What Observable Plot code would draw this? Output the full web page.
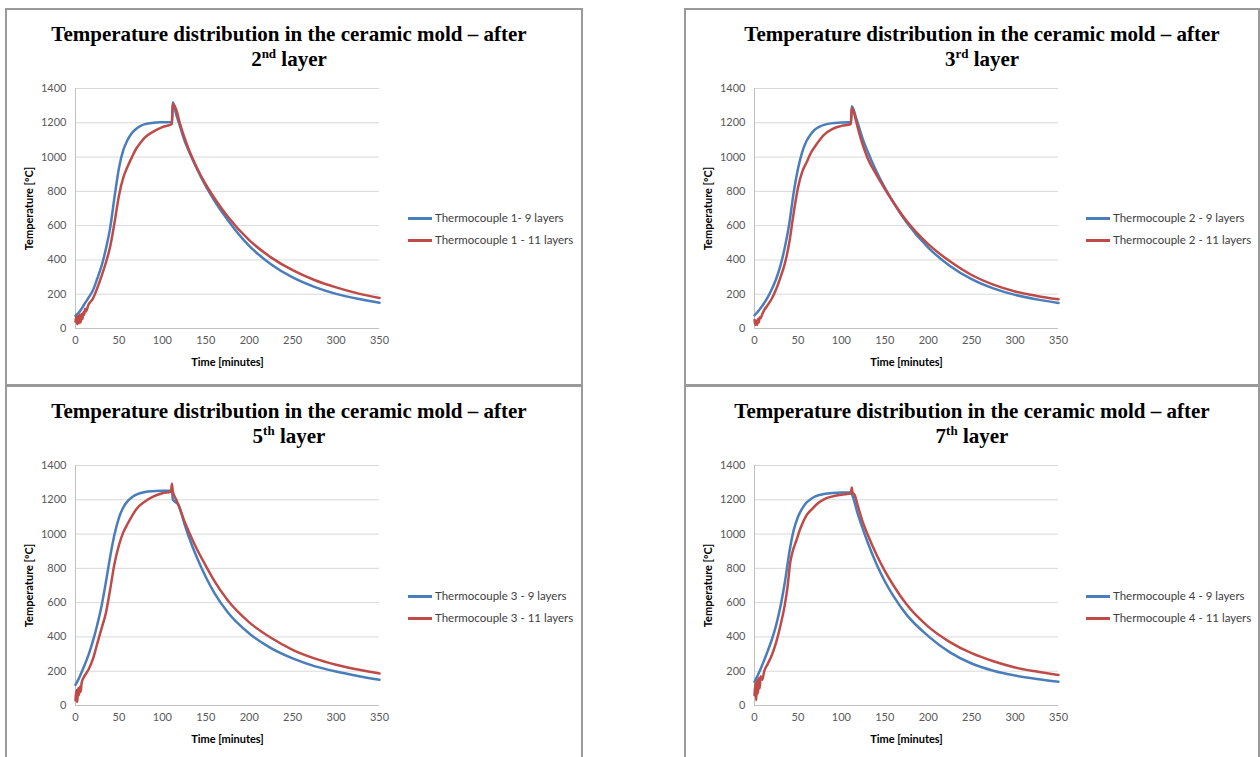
<!DOCTYPE html>
<html><head><meta charset="utf-8">
<script src="https://cdn.jsdelivr.net/npm/d3@7"></script>
<script src="https://cdn.jsdelivr.net/npm/@observablehq/plot@0.6"></script>
<style>
body{margin:0;background:#fff;width:1260px;height:757px;overflow:hidden;position:relative;}
.panel{position:absolute;border:2px solid #9a9a9a;box-sizing:border-box;}
.title{position:absolute;width:600px;text-align:center;font-family:"Liberation Serif","Times New Roman",serif;font-weight:bold;font-size:21px;line-height:25px;color:#000;}
.title sup{font-size:13px;line-height:0;vertical-align:8px;}
.legend-item{position:absolute;white-space:nowrap;height:14px;line-height:14px;font-family:Lato,sans-serif;font-size:11.5px;color:#404040;}
.swatch{display:inline-block;width:24px;height:0;border-top:3px solid;vertical-align:middle;margin-right:3px;position:relative;top:-1px;}
</style></head><body>
<script>
// ---- Axis ticks ----
const xTicks = [0, 50, 100, 150, 200, 250, 300, 350];
const yTicks = [0, 200, 400, 600, 800, 1000, 1200, 1400];

// ---- Titles / legend labels ----
const titleLine1 = "Temperature distribution in the ceramic mold – after";
const layerNums = ["2", "3", "5", "7"];
const layerSups = ["nd", "rd", "th", "th"];
const seriesNames = [
  ["Thermocouple 1- 9 layers", "Thermocouple 1 - 11 layers"],
  ["Thermocouple 2 - 9 layers", "Thermocouple 2 - 11 layers"],
  ["Thermocouple 3 - 9 layers", "Thermocouple 3 - 11 layers"],
  ["Thermocouple 4 - 9 layers", "Thermocouple 4 - 11 layers"]
];

// ---- Thermocouple 1 ----
const tc1_9_time = [0, 5, 10, 15, 20, 25, 30, 35, 40, 45, 50, 55, 60, 65, 70, 75, 80, 90, 100, 111, 112, 116, 120, 125, 130, 140, 150, 160, 175, 200, 225, 250, 275, 300, 325, 350];
const tc1_9_temp = [75, 100, 140, 180, 222, 290, 365, 465, 590, 770, 935, 1040, 1100, 1140, 1165, 1182, 1192, 1200, 1203, 1205, 1320, 1248, 1185, 1103, 1041, 929, 830, 745, 635, 482, 375, 298, 243, 202, 173, 150];
const tc1_11_time = [0, 1, 2, 3, 4, 5, 6, 7, 8, 9, 10, 11, 12, 15, 20, 25, 30, 35, 40, 45, 50, 55, 60, 65, 70, 75, 80, 90, 100, 111, 112, 116, 120, 125, 130, 140, 150, 160, 175, 200, 225, 250, 275, 300, 325, 350];
const tc1_11_temp = [40, 70, 25, 75, 30, 80, 35, 85, 55, 95, 80, 115, 100, 140, 174, 235, 305, 385, 480, 620, 775, 880, 945, 1000, 1050, 1085, 1115, 1150, 1175, 1193, 1309, 1276, 1200, 1120, 1050, 935, 840, 760, 655, 515, 415, 340, 283, 240, 205, 178];

// ---- Thermocouple 2 ----
const tc2_9_time = [0, 5, 10, 15, 20, 25, 30, 35, 40, 45, 50, 55, 60, 65, 70, 75, 80, 90, 100, 111, 112, 117, 120, 125, 130, 140, 150, 160, 175, 200, 225, 250, 275, 300, 325, 350];
const tc2_9_temp = [77, 105, 140, 180, 230, 290, 370, 475, 610, 790, 930, 1030, 1095, 1135, 1162, 1178, 1188, 1198, 1201, 1205, 1296, 1228, 1180, 1100, 1035, 920, 822, 735, 620, 472, 365, 288, 234, 196, 170, 149];
const tc2_11_time = [0, 1, 2, 3, 4, 5, 6, 7, 9, 11, 15, 20, 25, 30, 35, 40, 45, 50, 55, 60, 65, 70, 75, 80, 90, 100, 111, 112, 115, 117, 120, 125, 130, 140, 150, 160, 175, 200, 225, 250, 275, 300, 325, 350];
const tc2_11_temp = [50, 20, 45, 20, 55, 35, 65, 60, 85, 106, 135, 175, 230, 300, 380, 500, 670, 820, 915, 970, 1025, 1065, 1100, 1130, 1165, 1182, 1193, 1286, 1250, 1209, 1150, 1065, 996, 900, 815, 735, 628, 492, 392, 312, 256, 216, 190, 170];

// ---- Thermocouple 3 ----
const tc3_9_time = [0, 5, 10, 15, 20, 25, 30, 35, 40, 45, 50, 55, 60, 65, 70, 80, 90, 100, 111, 112, 114, 118, 122, 126, 130, 140, 150, 160, 175, 200, 225, 250, 275, 300, 325, 350];
const tc3_9_temp = [120, 170, 230, 295, 375, 470, 580, 720, 870, 1000, 1095, 1155, 1192, 1215, 1230, 1245, 1250, 1253, 1253, 1203, 1190, 1175, 1120, 1050, 990, 860, 750, 655, 545, 420, 335, 275, 230, 198, 172, 150];
const tc3_11_time = [0, 1, 2, 3, 4, 5, 6, 7, 9, 12, 15, 20, 25, 30, 35, 40, 45, 50, 55, 60, 65, 70, 80, 90, 100, 110, 111, 112, 116, 120, 125, 130, 140, 150, 160, 175, 200, 225, 250, 275, 300, 325, 350];
const tc3_11_temp = [30, 90, 20, 100, 60, 110, 80, 130, 159, 185, 210, 270, 360, 450, 540, 680, 830, 935, 1010, 1060, 1105, 1145, 1190, 1220, 1238, 1248, 1294, 1250, 1200, 1150, 1080, 1020, 910, 815, 725, 615, 485, 395, 325, 275, 238, 210, 187];

// ---- Thermocouple 4 ----
const tc4_9_time = [0, 5, 10, 15, 20, 25, 30, 35, 40, 45, 50, 55, 60, 65, 70, 80, 90, 100, 111, 113, 116, 119, 124, 130, 140, 150, 160, 175, 200, 225, 250, 275, 300, 325, 350];
const tc4_9_temp = [139, 190, 250, 315, 385, 470, 580, 720, 890, 1020, 1100, 1150, 1185, 1205, 1220, 1234, 1240, 1242, 1242, 1222, 1170, 1116, 1040, 955, 830, 725, 638, 530, 405, 310, 245, 203, 175, 155, 139];
const tc4_11_time = [0, 1, 2, 3, 4, 5, 6, 7, 9, 11, 15, 20, 25, 30, 35, 38, 41, 44, 48, 53, 60, 67, 73, 80, 90, 100, 111, 112, 113, 115, 119, 124, 130, 140, 150, 160, 175, 200, 225, 250, 275, 300, 325, 350];
const tc4_11_temp = [60, 130, 30, 150, 70, 160, 100, 170, 150, 197, 240, 295, 370, 470, 590, 690, 830, 900, 960, 1035, 1110, 1150, 1180, 1203, 1220, 1230, 1236, 1271, 1240, 1232, 1164, 1080, 1000, 885, 785, 700, 590, 460, 370, 305, 258, 222, 198, 178];

const seriesData = [
  [[tc1_9_time, tc1_9_temp], [tc1_11_time, tc1_11_temp]],
  [[tc2_9_time, tc2_9_temp], [tc2_11_time, tc2_11_temp]],
  [[tc3_9_time, tc3_9_temp], [tc3_11_time, tc3_11_temp]],
  [[tc4_9_time, tc4_9_temp], [tc4_11_time, tc4_11_temp]]
];

const colors = ["#4A7EBB", "#BE4B48"];

// layout (page coordinates)
const layout = [
  {box: [5, 8, 578, 378], titleX: 289, titleY: 22, svg: [20, 78], legend: [408, 218]},
  {box: [684, 8, 576, 378], titleX: 982, titleY: 22, svg: [699, 78], legend: [1086, 218]},
  {box: [5, 385, 578, 380], titleX: 289, titleY: 399, svg: [20, 455], legend: [408, 596]},
  {box: [684, 385, 576, 380], titleX: 972, titleY: 399, svg: [699, 455], legend: [1086, 596]}
];

function el(tag, cls, style) {
  const e = document.createElement(tag);
  if (cls) e.className = cls;
  Object.assign(e.style, style || {});
  document.body.appendChild(e);
  return e;
}

layout.forEach((L, i) => {
  el("div", "panel", {left: L.box[0] + "px", top: L.box[1] + "px", width: L.box[2] + "px", height: L.box[3] + "px"});
  const t = el("div", "title", {left: (L.titleX - 300) + "px", top: L.titleY + "px"});
  t.innerHTML = titleLine1 + "<br>" + layerNums[i] + "<sup>" + layerSups[i] + "</sup> layer";

  const rows = [];
  seriesData[i].forEach(([times, temps], k) => {
    times.forEach((tm, j) => rows.push({series: seriesNames[i][k], t: tm, v: temps[j]}));
  });

  const chart = Plot.plot({
    width: 370, height: 292,
    marginLeft: 55, marginRight: 11, marginTop: 10, marginBottom: 42,
    style: {fontFamily: "Lato, sans-serif", fontSize: "11px", color: "#595959", background: "transparent", overflow: "visible"},
    x: {domain: [0, 350], ticks: xTicks, tickSize: 0, tickPadding: 8, label: null, tickFormat: d => String(d)},
    y: {domain: [0, 1400], ticks: yTicks, tickSize: 0, tickPadding: 9, label: null, tickFormat: d => String(d)},
    color: {domain: seriesNames[i], range: colors},
    marks: [
      Plot.gridY(yTicks, {stroke: "#d9d9d9", strokeOpacity: 1}),
      Plot.ruleX([0], {stroke: "#c0c0c0"}),
      Plot.ruleY([0], {stroke: "#c0c0c0"}),
      Plot.lineY(rows, {x: "t", y: "v", stroke: "series", strokeWidth: 2.5, curve: "monotone-x"}),
      Plot.text(["Time [minutes]"], {text: d => d, frameAnchor: "bottom", dy: 34, fontWeight: "bold", fill: "#000", fontSize: 11, textAnchor: "middle", lineAnchor: "middle"}),
      Plot.text(["Temperature [ºC]"], {text: d => d, frameAnchor: "left", dx: -46, rotate: -90, fontWeight: "bold", fill: "#000", fontSize: 11, textAnchor: "middle", lineAnchor: "middle"})
    ]
  });
  chart.style.position = "absolute";
  chart.style.left = L.svg[0] + "px";
  chart.style.top = L.svg[1] + "px";
  document.body.appendChild(chart);

  seriesNames[i].forEach((name, k) => {
    const item = el("div", "legend-item", {left: L.legend[0] + "px", top: (L.legend[1] + k * 22 - 7) + "px"});
    item.innerHTML = '<span class="swatch" style="border-color:' + colors[k] + '"></span>' + name;
  });
});
</script>
</body></html>
